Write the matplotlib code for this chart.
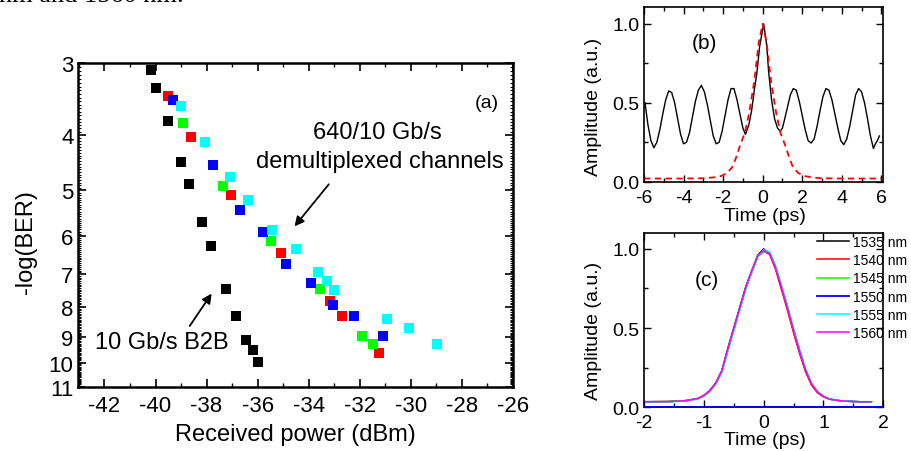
import matplotlib
matplotlib.use('Agg')
import matplotlib.pyplot as plt
from matplotlib.ticker import FixedLocator, MultipleLocator, FormatStrFormatter, NullFormatter
import numpy as np

plt.rcParams['font.family'] = ['Liberation Sans', 'DejaVu Sans']
plt.rcParams['axes.unicode_minus'] = False

# ---------------- Panel (a) data: received power (dBm) vs -log(BER)
b2b_power = [-40.19, -39.97, -39.52, -38.99, -38.67, -38.17, -37.82, -37.25, -36.84, -36.45, -36.18, -35.98]
b2b_ber = [3.09, 3.32, 3.79, 4.46, 4.87, 5.67, 6.25, 7.42, 8.27, 9.12, 9.50, 9.95]
red_power = [-39.50, -38.61, -37.05, -35.07, -33.17, -32.70, -31.26]
red_ber = [3.42, 4.04, 5.10, 6.43, 7.81, 8.27, 9.61]
green_power = [-38.91, -37.34, -35.46, -33.55, -31.92, -31.49]
green_ber = [3.82, 4.91, 6.13, 7.43, 8.97, 9.27]
blue_power = [-39.32, -37.73, -36.67, -35.79, -34.90, -33.91, -33.05, -32.23, -31.10]
blue_ber = [3.48, 4.52, 5.42, 5.92, 6.71, 7.26, 7.94, 8.27, 8.96]
cyan_power = [-38.99, -38.08, -37.09, -36.37, -35.44, -34.48, -33.64, -33.29, -33.00, -30.91, -30.05, -28.95]
cyan_ber = [3.56, 4.12, 4.74, 5.20, 5.87, 6.34, 6.94, 7.20, 7.46, 8.37, 8.68, 9.27]
ber_ticks = [3, 4, 5, 6, 7, 8, 9, 10, 11]
power_ticks = [-42, -40, -38, -36, -34, -32, -30, -28, -26]

# ---------------- Panel (b) data
t_b = [-5.95, -5.8, -5.65, -5.5, -5.35, -5.2, -5.05, -4.9, -4.75, -4.6, -4.45, -4.3, -4.15, -4.0,
       -3.85, -3.7, -3.55, -3.4, -3.25, -3.1, -2.95, -2.8, -2.65, -2.5, -2.35, -2.2, -2.05, -1.9,
       -1.75, -1.6, -1.45, -1.3, -1.15, -1.0, -0.87, -0.7, -0.56, -0.4, -0.3, -0.15, 0.05, 0.2,
       0.3, 0.45, 0.6, 0.75, 0.89, 1.0, 1.1, 1.25, 1.4, 1.55, 1.7, 1.85, 2.0, 2.15, 2.3, 2.45,
       2.6, 2.75, 2.9, 3.05, 3.2, 3.35, 3.5, 3.65, 3.8, 3.95, 4.1, 4.25, 4.4, 4.55, 4.7, 4.85,
       5.0, 5.15, 5.3, 5.45, 5.6, 5.7, 5.8, 5.9]
amp_b = [0.50, 0.36, 0.26, 0.215, 0.25, 0.33, 0.43, 0.52, 0.575, 0.565, 0.50, 0.40, 0.30, 0.24,
         0.25, 0.31, 0.41, 0.51, 0.58, 0.61, 0.57, 0.49, 0.39, 0.29, 0.24, 0.25, 0.32, 0.42,
         0.52, 0.59, 0.59, 0.52, 0.43, 0.34, 0.30, 0.36, 0.45, 0.60, 0.68, 0.86, 1.0, 0.87,
         0.70, 0.52, 0.40, 0.34, 0.32, 0.34, 0.39, 0.47, 0.55, 0.59, 0.58, 0.51, 0.42, 0.33, 0.26, 0.245,
         0.27, 0.35, 0.45, 0.54, 0.59, 0.58, 0.52, 0.43, 0.34, 0.26, 0.235, 0.27, 0.35, 0.45, 0.55, 0.59,
         0.57, 0.50, 0.40, 0.29, 0.21, 0.24, 0.26, 0.29]
t_fit = [-6.0, -5.0, -4.0, -3.0, -2.5, -2.1, -1.8, -1.55, -1.35, -1.17, -0.9, -0.69, -0.42, -0.2,
         0.0, 0.2, 0.42, 0.69, 0.9, 1.17, 1.35, 1.53, 1.8, 2.1, 2.5, 3.0, 4.0, 5.0, 6.0]
amp_fit = [0.02, 0.02, 0.02, 0.022, 0.027, 0.036, 0.055, 0.09, 0.15, 0.22, 0.31, 0.43, 0.64, 0.88,
           1.0, 0.88, 0.64, 0.43, 0.31, 0.22, 0.15, 0.093, 0.055, 0.036, 0.027, 0.022, 0.02, 0.02, 0.02]

# ---------------- Panel (c) data
t_c = [-2.0, -1.6, -1.3, -1.1, -1.0, -0.9, -0.8, -0.7, -0.6, -0.5, -0.4, -0.3, -0.2, -0.1, 0.0,
       0.1, 0.2, 0.3, 0.4, 0.5, 0.6, 0.7, 0.8, 0.9, 1.0, 1.1, 1.3, 1.6, 1.8]
amp_1535 = [0.035, 0.036, 0.042, 0.055, 0.075, 0.105, 0.155, 0.23, 0.37, 0.50, 0.63, 0.76, 0.86, 0.96, 1.0,
            0.97, 0.88, 0.75, 0.62, 0.48, 0.35, 0.23, 0.145, 0.095, 0.068, 0.052, 0.04, 0.035, 0.035]
amp_1540 = [0.035, 0.036, 0.042, 0.055, 0.074, 0.103, 0.15, 0.225, 0.36, 0.49, 0.62, 0.75, 0.85, 0.95, 0.985,
            0.965, 0.87, 0.74, 0.61, 0.47, 0.34, 0.225, 0.14, 0.092, 0.066, 0.051, 0.04, 0.035, 0.035]
amp_1545 = [0.035, 0.036, 0.042, 0.054, 0.073, 0.10, 0.15, 0.225, 0.36, 0.49, 0.62, 0.75, 0.86, 0.96, 0.98,
            0.98, 0.89, 0.76, 0.63, 0.49, 0.36, 0.24, 0.15, 0.10, 0.07, 0.053, 0.04, 0.035, 0.035]
amp_1550 = [0.0, 0.0, 0.0, 0.0, 0.0, 0.0, 0.0, 0.0, 0.0, 0.0, 0.0, 0.0, 0.0, 0.0, 0.0,
            0.0, 0.0, 0.0, 0.0, 0.0, 0.0, 0.0, 0.0, 0.0, 0.0, 0.0, 0.0, 0.0, 0.0]
amp_1555 = [0.035, 0.035, 0.04, 0.052, 0.07, 0.098, 0.145, 0.215, 0.35, 0.48, 0.61, 0.74, 0.85, 0.95, 0.995,
            0.98, 0.89, 0.77, 0.64, 0.50, 0.37, 0.245, 0.155, 0.10, 0.07, 0.053, 0.04, 0.035, 0.035]
amp_1560 = [0.035, 0.036, 0.042, 0.055, 0.074, 0.104, 0.152, 0.228, 0.365, 0.495, 0.625, 0.755, 0.86, 0.955, 0.99,
            0.97, 0.88, 0.755, 0.625, 0.485, 0.355, 0.235, 0.148, 0.097, 0.069, 0.052, 0.04, 0.035, 0.035]
wl_labels = ['1535 nm', '1540 nm', '1545 nm', '1550 nm', '1555 nm', '1560 nm']

# ---------------- figure
W, H = 911, 452
fig = plt.figure(figsize=(W / 100, H / 100), dpi=100)

def px_axes(l, r, t, b):
    return fig.add_axes([l / W, 1 - b / H, (r - l) / W, (b - t) / H])

# stray caption fragment at top
fig.text(184 / W, 1 - 2 / H, 'nm and 1560 nm.', family='Liberation Serif', fontsize=19,
         ha='right', va='baseline')

# ---------- (a)
ax = px_axes(77.7, 512.7, 64, 387.7)
ms = 7.6
ax.plot(b2b_power, b2b_ber, 's', color='black', ms=ms, mew=0)
ax.plot(red_power, red_ber, 's', color='#ff0000', ms=ms, mew=0)
ax.plot(green_power, green_ber, 's', color='#00ff00', ms=ms, mew=0)
ax.plot(blue_power, blue_ber, 's', color='#0000ff', ms=ms, mew=0)
ax.plot(cyan_power, cyan_ber, 's', color='#00ffff', ms=ms, mew=0)
ax.set_yscale('log')
ax.set_ylim(11, 3)
ax.set_xlim(-43.05, -26)
ax.yaxis.set_major_locator(FixedLocator(ber_ticks))
ax.yaxis.set_major_formatter(FormatStrFormatter('%d'))
ax.yaxis.set_minor_locator(FixedLocator(list(np.arange(3.0, 11.0, 0.05))))
ax.yaxis.set_minor_formatter(NullFormatter())
ax.xaxis.set_major_locator(FixedLocator(power_ticks))
ax.xaxis.set_minor_locator(MultipleLocator(1))
ax.tick_params(which='both', direction='in', top=True, right=True)
ax.tick_params(which='major', length=6, width=1.2, labelsize=16)
ax.tick_params(axis='x', which='major', pad=6)
ax.tick_params(axis='y', which='major', pad=3)
ax.tick_params(axis='x', which='minor', length=3, width=1.0)
ax.tick_params(axis='y', which='minor', length=2, width=0.8)
for s in ax.spines.values():
    s.set_linewidth(1.8)
ax.set_xlabel('Received power (dBm)', fontsize=17)
ax.xaxis.set_label_coords(0.5, -0.146)
ax.xaxis.label.set_va('center')
ax.set_ylabel('-log(BER)', fontsize=17)
ax.yaxis.set_label_coords(-0.119, 0.449)
ax.yaxis.label.set_va('center')
ax.text(-31.3, 3.96, '640/10 Gb/s', fontsize=17, ha='center', va='center')
ax.text(-31.22, 4.44, 'demultiplexed channels', fontsize=17, ha='center', va='center')
ax.text(-39.76, 9.21, '10 Gb/s B2B', fontsize=17, ha='center', va='center')
ax.text(-27.0, 3.51, '(a)', fontsize=14, ha='center', va='center')
ax.annotate('', xy=(-34.62, 5.83), xytext=(-33.14, 4.84),
            arrowprops=dict(arrowstyle='-|>', color='black', lw=1.3, mutation_scale=14))
ax.annotate('', xy=(-37.74, 7.50), xytext=(-38.72, 8.70),
            arrowprops=dict(arrowstyle='-|>', color='black', lw=1.3, mutation_scale=14))

# ---------- (b)
bx = px_axes(644, 883.3, 8.3, 182.7)
bx.plot(t_b, amp_b, color='black', lw=1.0)
bx.plot(t_fit, amp_fit, color='#ff0000', lw=1.3, ls=(0, (3.5, 2.5)))
bx.set_xlim(-6, 6.1)
bx.set_ylim(0, 1.105)
bx.xaxis.set_major_locator(MultipleLocator(2))
bx.xaxis.set_minor_locator(MultipleLocator(1))
bx.yaxis.set_major_locator(MultipleLocator(0.5))
bx.yaxis.set_minor_locator(MultipleLocator(0.25))
bx.yaxis.set_major_formatter(FormatStrFormatter('%.1f'))
bx.tick_params(which='both', direction='in', top=True, right=True)
bx.tick_params(which='major', length=5, width=1.0, labelsize=14)
bx.tick_params(which='minor', length=3, width=1.0)
bx.tick_params(axis='x', which='major', pad=5)
bx.tick_params(axis='y', which='major', pad=3)
for s in bx.spines.values():
    s.set_linewidth(1.2)
bx.set_xlabel('Time (ps)', fontsize=14)
bx.xaxis.set_label_coords(0.506, -0.195)
bx.xaxis.label.set_va('center')
bx.set_ylabel('Amplitude (a.u.)', fontsize=14)
bx.yaxis.set_label_coords(-0.209, 0.436)
bx.yaxis.label.set_va('center')
bx.text(-2.92, 0.884, '(b)', fontsize=15, ha='center', va='center')

# ---------- (c)
cx = px_axes(644, 883.3, 234, 408.3)
c_colors = ['black', '#ff0000', '#00ff00', '#0000ff', '#00ffff', '#ff00ff']
c_series = [amp_1535, amp_1540, amp_1545, amp_1550, amp_1555, amp_1560]
for amp, col, lab in zip(c_series, c_colors, wl_labels):
    if lab == '1550 nm':
        tt = list(t_c[:-1]) + [2.0]
        cx.plot(tt, amp, color=col, lw=1.3, label=lab, clip_on=False, zorder=3)
    else:
        cx.plot(t_c, amp, color=col, lw=1.1, label=lab)
cx.set_xlim(-2, 2)
cx.set_ylim(0, 1.1)
cx.xaxis.set_major_locator(MultipleLocator(1))
cx.xaxis.set_minor_locator(MultipleLocator(0.5))
cx.yaxis.set_major_locator(MultipleLocator(0.5))
cx.yaxis.set_minor_locator(MultipleLocator(0.25))
cx.yaxis.set_major_formatter(FormatStrFormatter('%.1f'))
cx.tick_params(which='both', direction='in', top=True, right=True)
cx.tick_params(which='major', length=5, width=1.0, labelsize=14)
cx.tick_params(which='minor', length=3, width=1.0)
cx.tick_params(axis='x', which='major', pad=5)
cx.tick_params(axis='y', which='major', pad=3)
for s in cx.spines.values():
    s.set_linewidth(1.2)
cx.set_xlabel('Time (ps)', fontsize=14)
cx.xaxis.set_label_coords(0.506, -0.182)
cx.xaxis.label.set_va('center')
cx.set_ylabel('Amplitude (a.u.)', fontsize=14)
cx.yaxis.set_label_coords(-0.209, 0.445)
cx.yaxis.label.set_va('center')
cx.text(-0.95, 0.806, '(c)', fontsize=15, ha='center', va='center')
leg = cx.legend(loc='upper left', bbox_to_anchor=(0.715, 1.0), frameon=False, fontsize=10,
                handlelength=2.3, handletextpad=0.3, labelspacing=0.3, borderpad=0.15,
                borderaxespad=0.0)
leg.set_zorder(5)

fig.savefig('out.png', dpi=100)
